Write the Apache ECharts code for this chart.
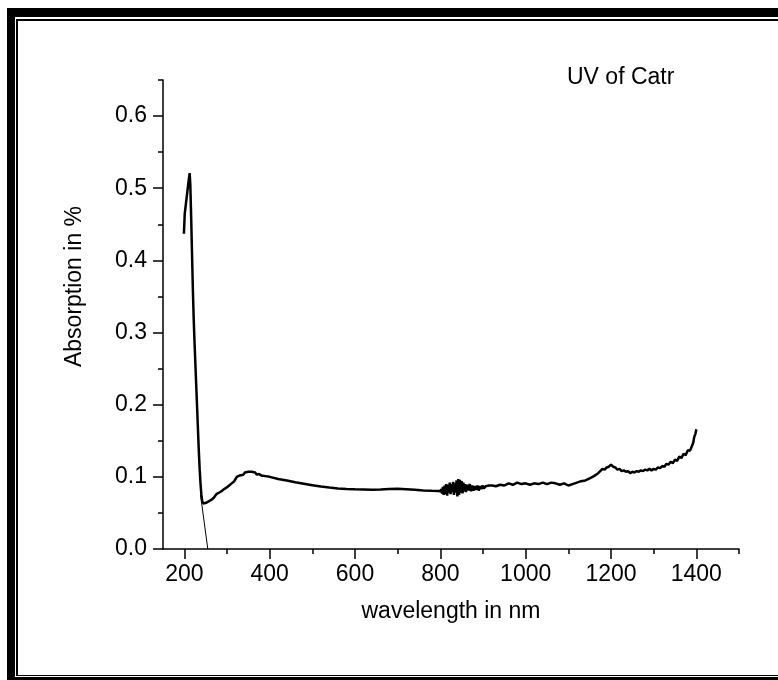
<!DOCTYPE html>
<html>
<head>
<meta charset="utf-8">
<script src="https://cdn.jsdelivr.net/npm/echarts@6/dist/echarts.min.js"></script>
<style>html,body{margin:0;padding:0;background:#fff}#c{width:778px;height:680px}</style>
</head>
<body>
<div id="c"></div>
<script>
// ---- data: [wavelength (nm), absorption] ----
const spectrum = [
 [199,0.437],[201,0.465],[204,0.480],[207,0.495],[210,0.510],[212.5,0.521],[214,0.505],[216,0.46],[218,0.41],[220,0.36],
 [222,0.318],[224,0.285],[226,0.255],[228,0.225],[230,0.195],[232,0.165],[234,0.135],[236,0.11],[238,0.09],[240,0.075],
 [242,0.066],[245,0.063],[248,0.062],[251,0.064],[254,0.063],[257,0.066],[260,0.064],[263,0.068],[266,0.067],[269,0.071],
 [272,0.070],[275,0.076],[278,0.074],[281,0.078],[284,0.076],[287,0.080],[290,0.078],[293,0.083],[296,0.081],[299,0.085],
 [302,0.083],[305,0.088],[308,0.086],[311,0.091],[314,0.089],[317,0.094],[320,0.097],[323,0.100],[326,0.099],[330,0.102],
 [334,0.104],[338,0.103],[342,0.106],[346,0.105],[350,0.107],[354,0.106],[358,0.107],[362,0.105],[366,0.106],[370,0.103],
 [375,0.104],[380,0.102],[390,0.101],[400,0.100],[420,0.097],[440,0.095],[460,0.0925],[480,0.0905],[500,0.0885],[520,0.0865],
 [540,0.0852],[560,0.0840],[580,0.0832],[600,0.0828],[620,0.0825],[640,0.0822],[660,0.0825],[680,0.0830],[700,0.0835],[720,0.0828],
 [740,0.0820],[760,0.0812],[780,0.0806],[795,0.0803],[800,0.080],[802,0.083],[804,0.077],[806,0.086],[808,0.075],[810,0.088],
 [812,0.076],[814,0.090],[816,0.074],[818,0.089],[820,0.078],[822,0.092],[824,0.076],[826,0.090],[828,0.079],[830,0.093],
 [832,0.075],[834,0.091],[836,0.078],[838,0.095],[840,0.073],[842,0.097],[844,0.075],[846,0.096],[848,0.078],[850,0.094],
 [852,0.077],[854,0.092],[856,0.080],[858,0.090],[860,0.079],[863,0.089],[866,0.081],[869,0.090],[872,0.080],[875,0.088],
 [878,0.081],[881,0.087],[884,0.082],[887,0.088],[890,0.081],[893,0.087],[896,0.083],[899,0.088],[902,0.084],[906,0.087],
 [910,0.085],[914,0.088],[918,0.086],[922,0.088],[930,0.087],[940,0.089],[950,0.088],[960,0.091],[970,0.089],[980,0.092],
 [990,0.090],[1000,0.091],[1010,0.089],[1020,0.091],[1030,0.090],[1040,0.092],[1050,0.090],[1060,0.092],[1070,0.091],[1080,0.089],
 [1090,0.091],[1100,0.088],[1110,0.090],[1120,0.092],[1130,0.094],[1140,0.095],[1150,0.098],[1160,0.101],[1170,0.105],[1180,0.111],
 [1185,0.110],[1190,0.113],[1195,0.114],[1200,0.117],[1205,0.114],[1210,0.113],[1215,0.110],[1220,0.111],[1225,0.108],[1230,0.109],
 [1235,0.107],[1240,0.108],[1245,0.105],[1250,0.107],[1255,0.106],[1260,0.108],[1265,0.107],[1270,0.109],[1275,0.108],[1280,0.110],
 [1285,0.109],[1290,0.111],[1295,0.109],[1300,0.111],[1305,0.110],[1310,0.113],[1315,0.112],[1320,0.115],[1325,0.114],[1330,0.118],
 [1335,0.117],[1340,0.121],[1345,0.119],[1350,0.124],[1355,0.122],[1360,0.128],[1365,0.126],[1370,0.132],[1375,0.130],[1380,0.137],
 [1385,0.136],[1390,0.143],[1393,0.148],[1395,0.155],[1398,0.160],[1400,0.166]
];
// band-edge tangent line
const tangentLine = [[238,0.075],[255,0]];
// ticks
const xMajorTicks = [200,400,600,800,1000,1200,1400];
const xMinorTicks = [300,500,700,900,1100,1300,1500];
const yMajorTicks = [0,0.1,0.2,0.3,0.4,0.5,0.6];
const yMinorTicks = [0.05,0.15,0.25,0.35,0.45,0.55,0.65];
const chartTitle = 'UV of Catr';
const xTitle = 'wavelength in nm';
const yTitle = 'Absorption in %';

const FONT = 'Liberation Sans, Arial, sans-serif';
const FS = 23;
const chart = echarts.init(document.getElementById('c'), null, {renderer:'canvas'});
chart.setOption({
  animation:false,
  backgroundColor:'#fff',
  graphic:[
    {type:'rect', z:-10, shape:{x:7,y:8,width:900,height:900}, style:{fill:'#000'}},
    {type:'rect', z:-9, shape:{x:15,y:17,width:900,height:660}, style:{fill:'#fff'}},
    {type:'rect', z:-8, shape:{x:16,y:19,width:900,height:657}, style:{fill:'#000'}},
    {type:'rect', z:-7, shape:{x:18,y:21,width:900,height:654}, style:{fill:'#fff'}},
    {type:'text', left:567, top:66, style:{text:chartTitle, font:FS+'px '+FONT, fill:'#000'}}
  ],
  grid:{left:163, top:80, right:39, bottom:131},
  xAxis:[
    {type:'value', min:150, max:1500, name:xTitle, nameLocation:'middle', nameGap:51,
     nameTextStyle:{fontFamily:FONT, fontSize:FS, color:'#000'},
     axisLine:{lineStyle:{color:'#000', width:1.5}},
     axisTick:{customValues:xMajorTicks, length:10, lineStyle:{color:'#000', width:1.5}},
     axisLabel:{customValues:xMajorTicks, margin:14, fontFamily:FONT, fontSize:FS, color:'#000', formatter:v=>String(v)},
     splitLine:{show:false}},
    {type:'value', min:150, max:1500, gridIndex:0, position:'bottom',
     axisLine:{show:false},
     axisTick:{customValues:xMinorTicks, length:5, lineStyle:{color:'#000', width:1.5}},
     axisLabel:{show:false}, splitLine:{show:false}}
  ],
  yAxis:[
    {type:'value', min:0, max:0.65, name:yTitle, nameLocation:'middle', nameGap:77, nameRotate:90,
     nameTextStyle:{fontFamily:FONT, fontSize:FS, color:'#000', padding:[0,0,0,56]},
     axisLine:{lineStyle:{color:'#000', width:1.5}},
     axisTick:{customValues:yMajorTicks, length:10, lineStyle:{color:'#000', width:1.5}},
     axisLabel:{customValues:yMajorTicks, margin:16, fontFamily:FONT, fontSize:FS, color:'#000', formatter:v=>v.toFixed(1)},
     splitLine:{show:false}},
    {type:'value', min:0, max:0.65, position:'left',
     axisLine:{show:false},
     axisTick:{customValues:yMinorTicks, length:5, lineStyle:{color:'#000', width:1.5}},
     axisLabel:{show:false}, splitLine:{show:false}}
  ],
  series:[
    {type:'line', data:spectrum, showSymbol:false, symbol:'none', lineStyle:{color:'#000', width:2.5}},
    {type:'line', data:tangentLine, showSymbol:false, symbol:'none', lineStyle:{color:'#000', width:1}}
  ]
});
</script>
</body>
</html>
